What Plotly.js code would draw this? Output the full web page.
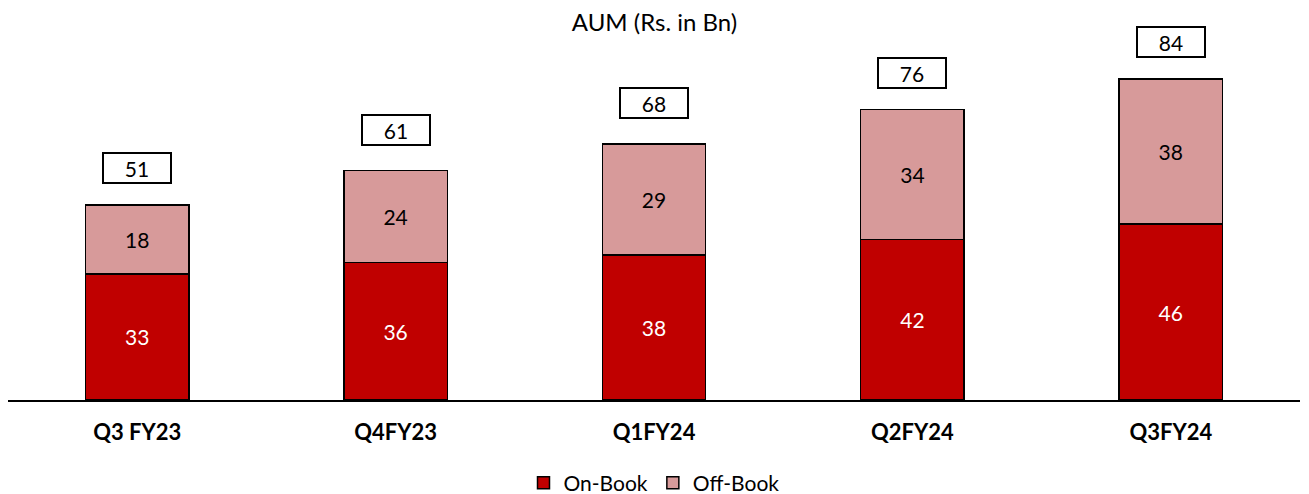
<!DOCTYPE html>
<html>
<head>
<meta charset="utf-8">
<script src="https://cdn.plot.ly/plotly-3.0.1.min.js"></script>
<style>html,body{margin:0;padding:0;background:#fff;}#chart{width:1309px;height:494px;}</style>
</head>
<body>
<div id="chart"></div>
<script>
const categories = ["Q3 FY23", "Q4FY23", "Q1FY24", "Q2FY24", "Q3FY24"];
const onBook = [33, 36, 38, 42, 46];
const offBook = [18, 24, 29, 34, 38];
const totals = [51, 61, 68, 76, 84];

const FONT = "Lato, 'Open Sans', sans-serif";

const traces = [
  {
    type: "bar", name: "On-Book", x: categories, y: onBook,
    text: onBook.map(String), textposition: "inside", insidetextanchor: "middle",
    constraintext: "none",
    textfont: {color: "#ffffff", size: 21, family: FONT},
    marker: {color: "#C00000", line: {color: "#000000", width: 1.5}},
    hoverinfo: "none"
  },
  {
    type: "bar", name: "Off-Book", x: categories, y: offBook,
    text: offBook.map(String), textposition: "inside", insidetextanchor: "middle",
    constraintext: "none",
    textfont: {color: "#000000", size: 21, family: FONT},
    marker: {color: "#D79A9A", line: {color: "#000000", width: 1.5}},
    hoverinfo: "none"
  }
];

const annotations = categories.map((c, i) => ({
  x: c, y: totals[i], xref: "x", yref: "y",
  text: String(totals[i]), showarrow: false,
  yanchor: "bottom", yshift: 21,
  width: 64, height: 26, borderpad: 1,
  bordercolor: "#000000", borderwidth: 2, bgcolor: "#ffffff",
  font: {family: FONT, size: 21, color: "#000000"}
}));

const layout = {
  width: 1309, height: 494,
  margin: {l: 8, r: 9, t: 40, b: 94},
  paper_bgcolor: "#ffffff", plot_bgcolor: "#ffffff",
  barmode: "stack", bargap: 0.6,
  font: {family: FONT, size: 17, color: "#000000"},
  title: {text: "AUM (Rs. in Bn)", x: 0.5, xanchor: "center", y: 0.955, yanchor: "middle",
          font: {family: FONT, size: 24, color: "#000000"}},
  xaxis: {
    automargin: false,
    showline: true, linecolor: "#000000", linewidth: 2,
    ticks: "outside", ticklen: 12, tickcolor: "rgba(0,0,0,0)",
    tickfont: {family: FONT, size: 22, color: "#000000", weight: "bold"},
    showgrid: false, zeroline: false, fixedrange: true
  },
  yaxis: {automargin: false, range: [0, 94.2], visible: false, showgrid: false, zeroline: false, fixedrange: true},
  showlegend: true,
  legend: {orientation: "h", traceorder: "normal", x: 0.5, xanchor: "center",
           yref: "container", y: 0.022, yanchor: "middle",
           font: {family: FONT, size: 21, color: "#000000"}, itemwidth: 30, tracegroupgap: 0},
  annotations: annotations
};

Plotly.newPlot("chart", traces, layout, {displayModeBar: false, staticPlot: true});
</script>
</body>
</html>
